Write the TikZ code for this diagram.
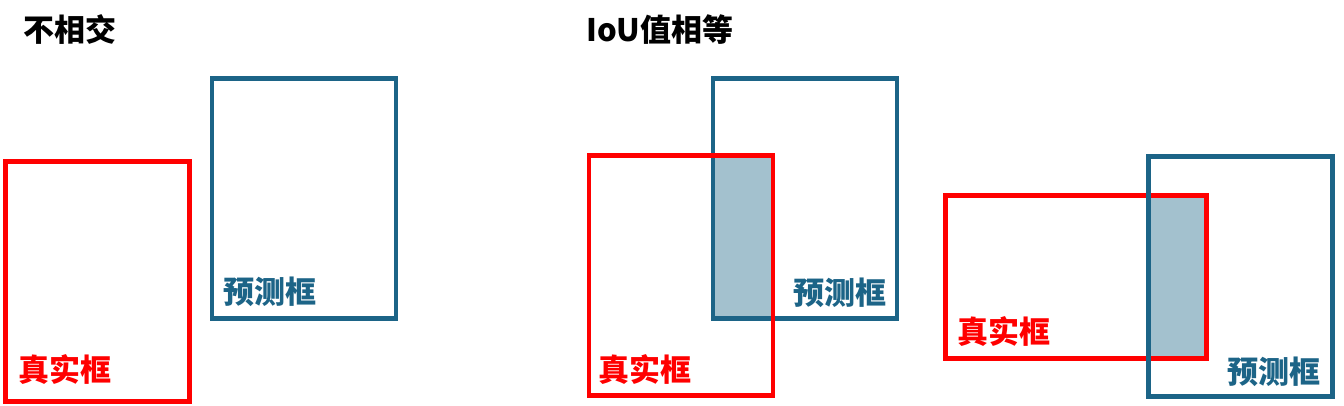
\documentclass[tikz,border=0pt]{standalone}
\usepackage{fontspec}
\usepackage{xcolor}
\usepackage{tikz}
\usetikzlibrary{positioning,backgrounds}
\newfontfamily\cjk{Noto Sans CJK SC}
\definecolor{predblue}{RGB}{28,100,135}
\definecolor{truered}{RGB}{255,0,0}
\definecolor{ioushade}{RGB}{163,193,206}

\begin{document}
\begin{tikzpicture}[
    x=1pt, y=-1pt,
    gtbox/.style={rectangle, draw=truered, line width=4.8pt, outer sep=0pt, inner sep=0pt, minimum width=184pt, minimum height=240pt},
    pdbox/.style={rectangle, draw=predblue, line width=4.8pt, outer sep=0pt, inner sep=0pt, minimum width=184pt, minimum height=240pt},
    label/.style={anchor=base west, inner sep=0pt, font=\cjk\bfseries\fontsize{31}{36}\selectfont},
    gtlabel/.style={label, text=truered},
    pdlabel/.style={label, text=predblue},
    title/.style={label, text=black},
    iou/.style={fill=ioushade}
]
    \useasboundingbox (0,0) rectangle (1344,405);

    % no overlap
    \node[title] (t1) at (23,41) {不相交};
    \node[gtbox] (gt1) at (97.75,281.5) {};
    \node[pdbox] (pd1) at (304,198.5) {};
    \node[gtlabel] (gtl1) at (18,381) {真实框};
    \node[pdlabel] (pdl1) at (223,303) {预测框};

    % same IoU
    \node[title] (t2) at (586,41) {IoU值相等};
    \node[pdbox] (pd2) at (805,198.5) {};
    \node[gtbox] (gt2) at (681,275.5) {};
    \node[gtlabel] (gtl2) at (598,381) {真实框};
    \node[pdlabel] (pdl2) at (793,304) {预测框};

    \node[gtbox, minimum width=261pt, minimum height=163pt] (gt3) at (1076,277) {};
    \node[pdbox] (pd3) at (1240.5,276.5) {};
    \node[gtlabel] (gtl3) at (957,343) {真实框};
    \node[pdlabel] (pdl3) at (1227,383) {预测框};

    \begin{scope}[on background layer]
        \fill[iou] (pd2.west |- gt2.north) rectangle (gt2.east |- pd2.south);
        \fill[iou] (pd3.west |- gt3.north) rectangle (gt3.south east);
    \end{scope}
\end{tikzpicture}
\end{document}
